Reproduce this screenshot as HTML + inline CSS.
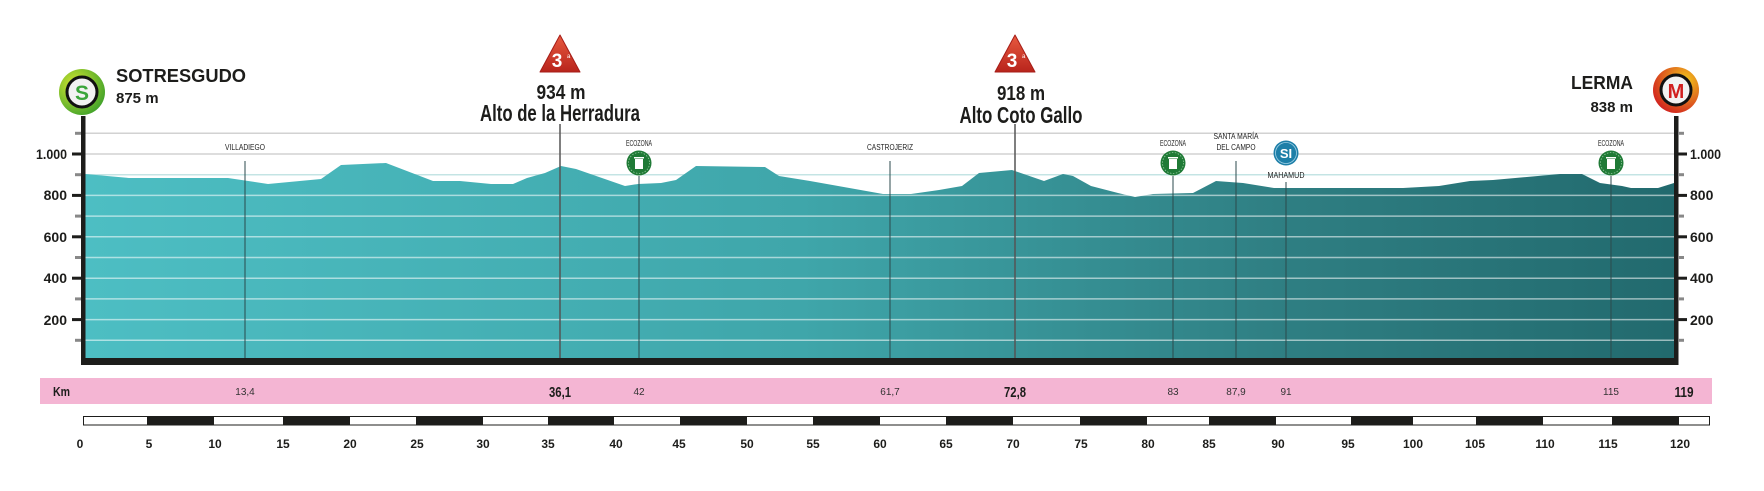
<!DOCTYPE html>
<html><head><meta charset="utf-8"><style>
html,body{margin:0;padding:0;background:#fff;}
svg{display:block;font-family:"Liberation Sans",sans-serif;}
</style></head><body>
<svg width="1764" height="491" viewBox="0 0 1764 491" xmlns="http://www.w3.org/2000/svg">
<defs>
<linearGradient id="g" x1="85" x2="1674" y1="0" y2="0" gradientUnits="userSpaceOnUse">
<stop offset="0" stop-color="#4dbec3"/><stop offset="0.45" stop-color="#3fa6aa"/><stop offset="0.75" stop-color="#2f7f83"/><stop offset="1" stop-color="#226a6e"/>
</linearGradient>
<radialGradient id="gs" cx="0.35" cy="0.35" r="0.8"><stop offset="0" stop-color="#d8e830"/><stop offset="1" stop-color="#2f9a2a"/></radialGradient>
<radialGradient id="gm" cx="0.7" cy="0.3" r="0.8"><stop offset="0" stop-color="#f3c81c"/><stop offset="1" stop-color="#d11f1f"/></radialGradient>
<linearGradient id="tri" x1="0" y1="0" x2="0" y2="1"><stop offset="0" stop-color="#e85a3f"/><stop offset="1" stop-color="#b8241c"/></linearGradient>
</defs>
<g stroke="#d2d2d2" stroke-width="1.5">
<line x1="85" x2="1674" y1="133.3" y2="133.3"/><line x1="85" x2="1674" y1="154" y2="154"/><line x1="85" x2="1674" y1="174.7" y2="174.7" stroke="#c4e4e4"/>
</g>
<polygon fill="url(#g)" points="85,361 85,174 129,178 228,178 268,184 321,179 341,165 386,163 433,181 460,181 491,184 513,184 527,178 545,173 561,166 576,169 625,186 638,184 661,183 676,180 696,166 765,167 779,176 810,181 855,189 883,194 911,194 939,190 962,186 979,173 1012,170 1044,181 1063,174 1073,176 1091,186 1118,193 1135,197 1153,194 1193,193 1216,181 1243,183 1274,188 1287,188 1403,188 1439,186 1470,181 1493,180 1560,174 1582,174 1600,183 1622,186 1631,188 1658,188 1674,183 1674,361"/>
<g stroke="#ffffff" stroke-opacity="0.55" stroke-width="1.5">
<line x1="85" x2="1674" y1="195.4" y2="195.4"/><line x1="85" x2="1674" y1="216.1" y2="216.1"/><line x1="85" x2="1674" y1="236.8" y2="236.8"/><line x1="85" x2="1674" y1="257.5" y2="257.5"/><line x1="85" x2="1674" y1="278.2" y2="278.2"/><line x1="85" x2="1674" y1="298.9" y2="298.9"/><line x1="85" x2="1674" y1="319.6" y2="319.6"/><line x1="85" x2="1674" y1="340.3" y2="340.3"/>
</g>
<g stroke="#2b4a4c" stroke-width="1">
<line x1="245" x2="245" y1="161" y2="358"/>
<line x1="639" x2="639" y1="176" y2="358"/>
<line x1="890" x2="890" y1="161" y2="358"/>
<line x1="1173" x2="1173" y1="176" y2="358"/>
<line x1="1236" x2="1236" y1="161" y2="358"/>
<line x1="1286" x2="1286" y1="182" y2="358"/>
<line x1="1611" x2="1611" y1="176" y2="358"/>
</g>
<g stroke="#555" stroke-width="1.5">
<line x1="560" x2="560" y1="124" y2="358"/>
<line x1="1015" x2="1015" y1="124" y2="358"/>
</g>
<rect x="81" y="116" width="4.5" height="249" fill="#1d1d1b"/>
<rect x="1674" y="116" width="4.5" height="249" fill="#1d1d1b"/>
<rect x="81" y="358" width="1597.5" height="7" fill="#1d1d1b"/>
<g fill="#1d1d1b">
<rect x="72" y="152.5" width="9" height="3"/><rect x="72" y="193.9" width="9" height="3"/><rect x="72" y="235.3" width="9" height="3"/><rect x="72" y="276.7" width="9" height="3"/><rect x="72" y="318.1" width="9" height="3"/>
<rect x="1678" y="152.5" width="9" height="3"/><rect x="1678" y="193.9" width="9" height="3"/><rect x="1678" y="235.3" width="9" height="3"/><rect x="1678" y="276.7" width="9" height="3"/><rect x="1678" y="318.1" width="9" height="3"/>
</g>
<g fill="#888">
<rect x="75" y="131.8" width="6" height="3"/><rect x="75" y="173.2" width="6" height="3"/><rect x="75" y="214.6" width="6" height="3"/><rect x="75" y="256" width="6" height="3"/><rect x="75" y="297.4" width="6" height="3"/><rect x="75" y="338.8" width="6" height="3"/>
<rect x="1678" y="131.8" width="6" height="3"/><rect x="1678" y="173.2" width="6" height="3"/><rect x="1678" y="214.6" width="6" height="3"/><rect x="1678" y="256" width="6" height="3"/><rect x="1678" y="297.4" width="6" height="3"/><rect x="1678" y="338.8" width="6" height="3"/>
</g>
<g font-weight="bold" font-size="14" fill="#1d1d1b">
<text x="67" y="159" text-anchor="end" textLength="31" lengthAdjust="spacingAndGlyphs">1.000</text>
<text x="67" y="200" text-anchor="end">800</text>
<text x="67" y="242" text-anchor="end">600</text>
<text x="67" y="283" text-anchor="end">400</text>
<text x="67" y="325" text-anchor="end">200</text>
<text x="1690" y="159" textLength="31" lengthAdjust="spacingAndGlyphs">1.000</text>
<text x="1690" y="200">800</text>
<text x="1690" y="242">600</text>
<text x="1690" y="283">400</text>
<text x="1690" y="325">200</text>
</g>
<g font-size="8" fill="#222" text-anchor="middle">
<text x="245" y="150" textLength="40" lengthAdjust="spacingAndGlyphs">VILLADIEGO</text>
<text x="639" y="146" textLength="26" lengthAdjust="spacingAndGlyphs">ECOZONA</text>
<text x="890" y="150" textLength="46" lengthAdjust="spacingAndGlyphs">CASTROJERIZ</text>
<text x="1173" y="146" textLength="26" lengthAdjust="spacingAndGlyphs">ECOZONA</text>
<text x="1236" y="139" textLength="45" lengthAdjust="spacingAndGlyphs">SANTA MARÍA</text>
<text x="1236" y="150" textLength="39" lengthAdjust="spacingAndGlyphs">DEL CAMPO</text>
<text x="1286" y="178" textLength="37" lengthAdjust="spacingAndGlyphs">MAHAMUD</text>
<text x="1611" y="146" textLength="26" lengthAdjust="spacingAndGlyphs">ECOZONA</text>
</g>
<g>
<circle cx="639" cy="163" r="12.5" fill="#1f7a36"/><circle cx="639" cy="163" r="10.5" fill="none" stroke="#8fc79b" stroke-width="0.8" stroke-dasharray="1.5 1.5"/>
<rect x="635" y="159" width="8" height="10" fill="#fff"/><rect x="634" y="157" width="10" height="1.5" fill="#fff"/>
<circle cx="1173" cy="163" r="12.5" fill="#1f7a36"/><circle cx="1173" cy="163" r="10.5" fill="none" stroke="#8fc79b" stroke-width="0.8" stroke-dasharray="1.5 1.5"/>
<rect x="1169" y="159" width="8" height="10" fill="#fff"/><rect x="1168" y="157" width="10" height="1.5" fill="#fff"/>
<circle cx="1611" cy="163" r="12.5" fill="#1f7a36"/><circle cx="1611" cy="163" r="10.5" fill="none" stroke="#8fc79b" stroke-width="0.8" stroke-dasharray="1.5 1.5"/>
<rect x="1607" y="159" width="8" height="10" fill="#fff"/><rect x="1606" y="157" width="10" height="1.5" fill="#fff"/>
<circle cx="1286" cy="153" r="12.5" fill="#1d7fa8"/><circle cx="1286" cy="153" r="10.5" fill="none" stroke="#9fd0e6" stroke-width="0.8"/>
<text x="1286" y="158" text-anchor="middle" font-size="13" font-weight="bold" fill="#fff">SI</text>
</g>
<circle cx="82" cy="92" r="23" fill="url(#gs)"/><circle cx="82" cy="92" r="15" fill="#f2f2f2" stroke="#111" stroke-width="3"/>
<text x="82" y="100" text-anchor="middle" font-size="21" font-weight="bold" fill="#3aa53a">S</text>
<text x="116" y="82" font-size="18" font-weight="bold" fill="#1d1d1b" textLength="130" lengthAdjust="spacingAndGlyphs">SOTRESGUDO</text>
<text x="116" y="103" font-size="15" font-weight="bold" fill="#1d1d1b">875 m</text>
<circle cx="1676" cy="90" r="23" fill="url(#gm)"/><circle cx="1676" cy="90" r="15" fill="#f2f2f2" stroke="#111" stroke-width="3"/>
<text x="1676" y="98" text-anchor="middle" font-size="20" font-weight="bold" fill="#d11f1f">M</text>
<text x="1633" y="89" text-anchor="end" font-size="18" font-weight="bold" fill="#1d1d1b" textLength="62" lengthAdjust="spacingAndGlyphs">LERMA</text>
<text x="1633" y="112" text-anchor="end" font-size="15" font-weight="bold" fill="#1d1d1b">838 m</text>
<path d="M560,35 L580,72 L540,72 Z" fill="url(#tri)" stroke="#a61d18" stroke-width="1" stroke-linejoin="round"/>
<text x="557" y="67" text-anchor="middle" font-size="19" font-weight="bold" fill="#fff">3</text>
<text x="567" y="58" font-size="6" fill="#fff">a</text>
<path d="M1015,35 L1035,72 L995,72 Z" fill="url(#tri)" stroke="#a61d18" stroke-width="1" stroke-linejoin="round"/>
<text x="1012" y="67" text-anchor="middle" font-size="19" font-weight="bold" fill="#fff">3</text>
<text x="1022" y="58" font-size="6" fill="#fff">a</text>
<g font-weight="bold" fill="#1d1d1b" text-anchor="middle">
<text x="561" y="99" font-size="20" textLength="49" lengthAdjust="spacingAndGlyphs">934 m</text>
<text x="560" y="121" font-size="23" textLength="160" lengthAdjust="spacingAndGlyphs">Alto de la Herradura</text>
<text x="1021" y="100" font-size="20" textLength="48" lengthAdjust="spacingAndGlyphs">918 m</text>
<text x="1021" y="123" font-size="23" textLength="123" lengthAdjust="spacingAndGlyphs">Alto Coto Gallo</text>
</g>
<rect x="40" y="378" width="1672" height="26" fill="#f4b5d3"/>
<text x="53" y="396" font-size="13" font-weight="bold" fill="#1d1d1b" textLength="17" lengthAdjust="spacingAndGlyphs">Km</text>
<g font-size="10" fill="#333" text-anchor="middle">
<text x="245" y="395">13,4</text><text x="639" y="395">42</text><text x="890" y="395">61,7</text><text x="1173" y="395">83</text><text x="1236" y="395">87,9</text><text x="1286" y="395">91</text><text x="1611" y="395">115</text>
</g>
<g font-size="15" font-weight="bold" fill="#1d1d1b" text-anchor="middle">
<text x="560" y="397" textLength="22" lengthAdjust="spacingAndGlyphs">36,1</text><text x="1015" y="397" textLength="22" lengthAdjust="spacingAndGlyphs">72,8</text><text x="1684" y="397" textLength="19" lengthAdjust="spacingAndGlyphs">119</text>
</g>
<rect x="83.5" y="416.5" width="1626" height="8.5" fill="#fff" stroke="#1d1d1b" stroke-width="1"/>
<g fill="#1d1d1b">
<rect x="147" y="416" width="67" height="9.5"/><rect x="283" y="416" width="67" height="9.5"/><rect x="416" y="416" width="67" height="9.5"/><rect x="548" y="416" width="66" height="9.5"/><rect x="680" y="416" width="67" height="9.5"/><rect x="813" y="416" width="67" height="9.5"/><rect x="946" y="416" width="67" height="9.5"/><rect x="1080" y="416" width="67" height="9.5"/><rect x="1209" y="416" width="67" height="9.5"/><rect x="1351" y="416" width="62" height="9.5"/><rect x="1476" y="416" width="67" height="9.5"/><rect x="1612" y="416" width="67" height="9.5"/>
</g>
<g font-size="12" font-weight="bold" fill="#1d1d1b" text-anchor="middle">
<text x="80" y="448">0</text><text x="149" y="448">5</text><text x="215" y="448">10</text><text x="283" y="448">15</text><text x="350" y="448">20</text><text x="417" y="448">25</text><text x="483" y="448">30</text><text x="548" y="448">35</text><text x="616" y="448">40</text><text x="679" y="448">45</text><text x="747" y="448">50</text><text x="813" y="448">55</text><text x="880" y="448">60</text><text x="946" y="448">65</text><text x="1013" y="448">70</text><text x="1081" y="448">75</text><text x="1148" y="448">80</text><text x="1209" y="448">85</text><text x="1278" y="448">90</text><text x="1348" y="448">95</text><text x="1413" y="448">100</text><text x="1475" y="448">105</text><text x="1545" y="448">110</text><text x="1608" y="448">115</text><text x="1680" y="448">120</text>
</g>
</svg>
</body></html>
